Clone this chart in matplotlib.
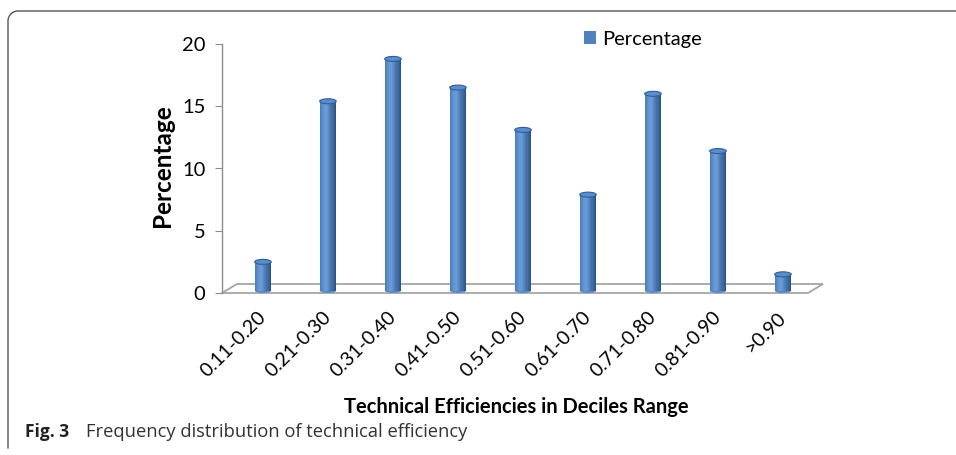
import numpy as np
import matplotlib
matplotlib.use("Agg")
import matplotlib.pyplot as plt
from matplotlib.patches import Ellipse, Polygon
from matplotlib.transforms import ScaledTranslation
from matplotlib.lines import Line2D

categories = ["0.11-0.20", "0.21-0.30", "0.31-0.40", "0.41-0.50", "0.51-0.60",
              "0.61-0.70", "0.71-0.80", "0.81-0.90", ">0.90"]
percentage = [2.5, 15.4, 18.8, 16.5, 13.1, 7.9, 16.0, 11.4, 1.5]
y_ticks = [0, 5, 10, 15, 20]
series_name = "Percentage"
x_title = "Technical Efficiencies in Deciles Range"
y_title = "Percentage"
caption_bold = "Fig. 3"
caption_text = "Frequency distribution of technical efficiency"

W, H = 956, 455
fig = plt.figure(figsize=(W / 100, H / 100), dpi=100)
FONT = "Lato"

ax_left, ax_right, ax_top, ax_bot = 222, 808, 44, 293
ax = fig.add_axes([ax_left / W, 1 - ax_bot / H, (ax_right - ax_left) / W, (ax_bot - ax_top) / H])
x = np.arange(len(categories))
ax.set_xlim(-0.63, 8.385)
ax.set_ylim(0, 20)

px_per_x = (ax_right - ax_left) / (8.385 + 0.63)
px_per_y = (ax_bot - ax_top) / 20.0

# cylinder bars with shading strips
bw = 16.5 / px_per_x
base = 0.2
n_strips = 14
dark = np.array([0x27, 0x50, 0x84]) / 255
mid = np.array([0x4a, 0x7c, 0xb9]) / 255
light = np.array([0x6c, 0x9e, 0xdb]) / 255
offs = (np.arange(n_strips) + 0.5) / n_strips
cols = []
for t in offs:
    if t < 0.38:
        c = mid + (light - mid) * (t / 0.38)
    else:
        c = light + (dark - light) * ((t - 0.38) / 0.62)
    cols.append(c)
vals = np.array(percentage)
ell_h = 5 / px_per_y
for k, t in enumerate(offs):
    ax.bar(x - bw / 2 + t * bw, vals - base, bottom=base, width=bw / n_strips * 1.05,
           color=cols[k], linewidth=0, zorder=3)
for xi, v in zip(x, vals):
    ax.add_patch(Ellipse((xi, base), bw, ell_h, facecolor=cols[n_strips // 2], edgecolor="none", zorder=2.9))
    ax.add_patch(Ellipse((xi, v), bw, ell_h, facecolor="#5a8dcc", edgecolor="#2f5f98", linewidth=0.8, zorder=4))

# floor
dx = 15 / px_per_x
dy = 9 / px_per_y
x0, x1 = ax.get_xlim()
floor = Polygon([[x0, 0], [x1, 0], [x1 + dx, dy], [x0 + dx, dy]], closed=True,
                facecolor="white", edgecolor="#a6a6a6", linewidth=1.3, clip_on=False, zorder=1)
ax.add_patch(floor)

for s in ["top", "right", "bottom"]:
    ax.spines[s].set_visible(False)
ax.spines["left"].set_color("#8c8c8c")
ax.spines["left"].set_linewidth(1.0)
ax.set_yticks(y_ticks)
ax.set_yticklabels([str(v) for v in y_ticks], fontsize=14.5, fontname=FONT)
ax.tick_params(axis="y", length=5, color="#8c8c8c", pad=7)
ax.set_xticks(x)
ax.set_xticklabels(categories, rotation=45, ha="right", va="top", rotation_mode="anchor",
                   fontsize=14, fontname=FONT)
ax.tick_params(axis="x", length=0, pad=11)
off = ScaledTranslation(-0.06, 0, fig.dpi_scale_trans)
for lab in ax.get_xticklabels():
    lab.set_transform(lab.get_transform() + off)
ax.set_facecolor("none")

fig.text(163 / W, 1 - 166 / H, y_title, rotation=90, ha="center", va="center",
         fontsize=17.5, fontweight="bold", fontname=FONT)
fig.text(516 / W, 1 - 407 / H, x_title, ha="center", va="center",
         fontsize=14.5, fontweight="bold", fontname=FONT)

# legend
handle = plt.Rectangle((0, 0), 1, 1, facecolor="#4f81bd", edgecolor="none")
fig.legend([handle], [series_name], loc="center left", bbox_to_anchor=(584 / W, 1 - 39 / H),
           frameon=False, prop={"family": FONT, "size": 14.5}, handlelength=0.6,
           handleheight=0.6, handletextpad=0.3, borderpad=0, borderaxespad=0)

# caption
fig.text(25 / W, 1 - 432 / H, caption_bold, ha="left", va="center",
         fontsize=12.5, fontweight="bold", fontname="Open Sans", color="#222222")
fig.text(86 / W, 1 - 432 / H, caption_text, ha="left", va="center",
         fontsize=13.2, fontname="Open Sans", color="#333333")

# border lines (rounded top-left)
r = 10
bx, by = 8, 11
theta = np.linspace(np.pi, np.pi / 2, 20)
arc_x = bx + r + r * np.cos(theta)
arc_y = by + r - r * np.sin(theta)
path_x = np.concatenate([[bx], arc_x, [W]])
path_y = np.concatenate([[448], arc_y, [by]])
fig.add_artist(Line2D(path_x / W, 1 - path_y / H, transform=fig.transFigure, color="#555555", linewidth=1.0))

fig.savefig("out.png", dpi=100)
